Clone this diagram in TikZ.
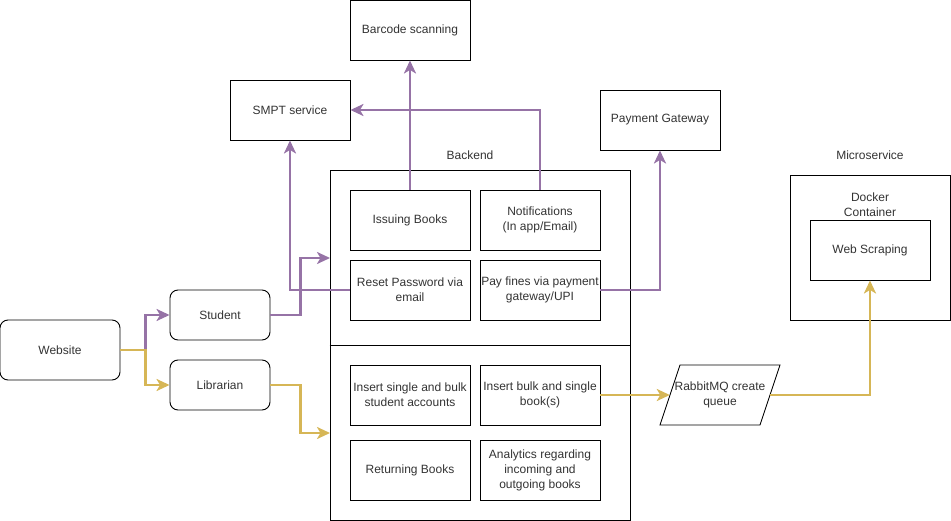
\documentclass[tikz,border=0pt]{standalone}
\usepackage{fontspec}
\setmainfont{Liberation Sans}
\usetikzlibrary{arrows.meta}
\definecolor{flowpurple}{HTML}{9673A6}
\definecolor{flowyellow}{HTML}{D6B656}

\begin{document}
\begin{tikzpicture}[x=1pt, y=-1pt, >={Stealth[length=13pt,width=12pt,inset=3.5pt]},
    font=\fontsize{12}{15}\selectfont, text=black!80,
    box/.style={draw=black, line width=0.9pt, minimum width=120pt, minimum height=60pt, inner sep=1pt, align=center},
    actor/.style={box, rounded corners=8pt, minimum width=100pt, minimum height=50pt},
    caption/.style={align=center, inner sep=0pt},
    purpleflow/.style={->, line width=2.4pt, flowpurple},
    yellowflow/.style={->, line width=2.4pt, flowyellow}]
    \useasboundingbox (0,0) rectangle (951,521);

    % Users
    \node [actor, minimum width=120pt, minimum height=60pt] (web) at (60,350) {Website};
    \node [actor] (student) at (220,315) {Student};
    \node [actor] (librarian) at (220,385) {Librarian};

    % External services
    \node [box] (barcode) at (410,30) {Barcode scanning};
    \node [box] (smpt) at (290,110) {SMPT service};
    \node [box] (gateway) at (660,120) {Payment Gateway};

    % Backend container
    \node [caption] (backendtitle) at (470,155) {Backend};
    \node [draw=black, line width=0.9pt, minimum width=300pt, minimum height=350pt] (backend) at (480,345) {};
    \draw [line width=0.9pt] (backend.west) -- (backend.east);
    \coordinate (student in) at (330,258);
    \coordinate (librarian in) at (330,433);

    \node [box] (issue) at (410,220) {Issuing Books};
    \node [box] (notify) at (540,220) {Notifications\\(In app/Email)};
    \node [box] (reset) at (410,290) {Reset Password via\\email};
    \node [box] (payfine) at (540,290) {Pay fines via payment\\gateway/UPI};
    \node [box] (insertstudent) at (410,395) {Insert single and bulk\\student accounts};
    \node [box] (insertbook) at (540,395) {Insert bulk and single\\book(s)};
    \node [box] (returning) at (410,470) {Returning Books};
    \node [box] (analytics) at (540,470) {Analytics regarding\\incoming and\\outgoing books};

    % Queue
    \draw [line width=0.9pt] (680,365) -- (780,365) -- (760,425) -- (660,425) -- cycle;
    \node [caption, minimum width=100pt] (rmq) at (720,395) {RabbitMQ create\\queue};

    % Microservice
    \node [caption] (microtitle) at (870,155) {Microservice};
    \node [draw=black, line width=0.9pt, minimum width=160pt, minimum height=145pt] (micro) at (870,247.5) {};
    \node [caption] (docker) at (870,205) {Docker\\Container};
    \node [box] (scrape) at (870,250) {Web Scraping};

    % Connectors
    \draw [purpleflow] (web.east) -- ++(25,0) |- (student.west);
    \draw [yellowflow] (web.east) -- ++(25,0) |- (librarian.west);
    \draw [purpleflow] (student.east) -- ++(30,0) |- (student in);
    \draw [yellowflow] (librarian.east) -- ++(30,0) |- (librarian in);
    \draw [purpleflow] (reset.west) -| (smpt.south);
    \draw [purpleflow] (issue.north) -- (barcode.south);
    \draw [purpleflow] (notify.north) |- (smpt.east);
    \draw [purpleflow] (payfine.east) -| (gateway.south);
    \draw [yellowflow] (insertbook.east) -- (rmq.west);
    \draw [yellowflow] (rmq.east) -| (scrape.south);
\end{tikzpicture}
\end{document}
